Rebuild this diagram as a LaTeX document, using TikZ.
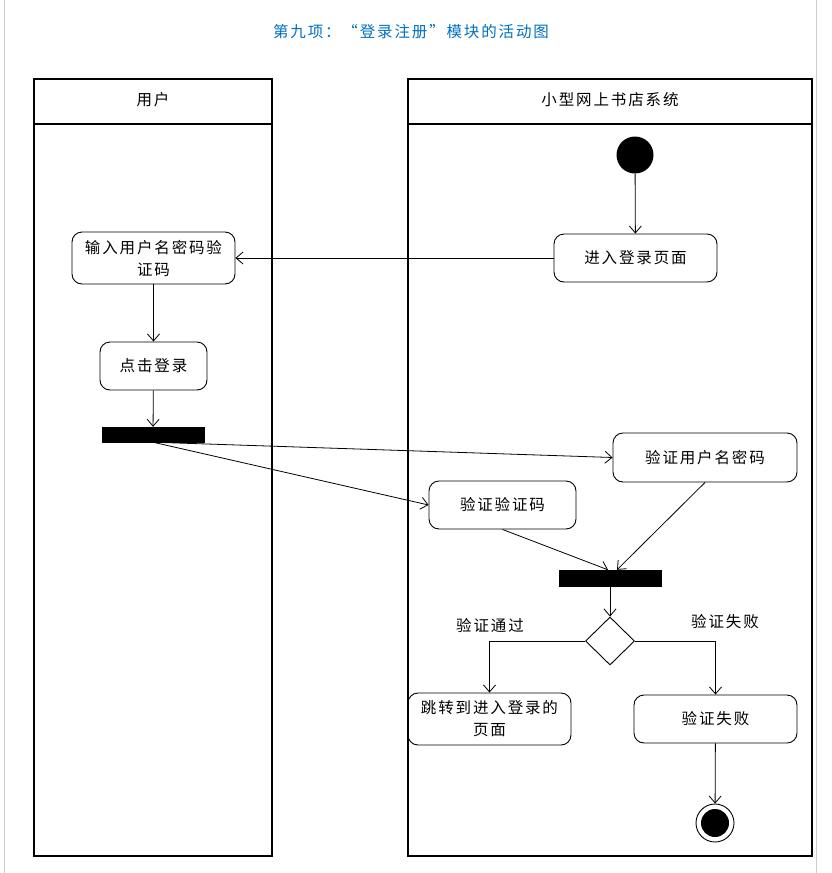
\documentclass[tikz,border=0pt]{standalone}
\usepackage{fontspec}
\newfontfamily\cjk[LetterSpace=12]{Noto Sans CJK SC}
\usetikzlibrary{arrows.meta,shapes.geometric,calc}
\definecolor{titleblue}{RGB}{0,112,192}
\begin{document}
\begin{tikzpicture}[x=1pt,y=-1pt,
  txt/.style={font=\cjk\fontsize{15.5}{22}\selectfont, align=center, inner sep=0pt},
  act/.style={txt, draw, rounded corners=10pt, line width=0.9pt},
  bar/.style={draw, fill=black, inner sep=0pt},
  lane/.style={draw, line width=1.1pt},
  arr/.style={line width=0.8pt, -{Straight Barb[length=7pt,width=12pt]}}]
\useasboundingbox (0,0) rectangle (831,873);
\fill[white] (0,0) rectangle (831,873);
\draw[gray!40, line width=0.8pt] (4,0) -- (4,873) (816,0) -- (816,873);

% title
\node[txt, text=titleblue] (title) at (411,32) {第九项：“登录注册”模块的活动图};

% swimlanes
\draw[lane] (34,79) rectangle (272,856);
\draw[lane] (34,124) -- (272,124);
\draw[lane] (408,79) rectangle (812,856);
\draw[lane] (408,124) -- (812,124);
\node[txt] (laneU) at (153,100) {用户};
\node[txt] (laneS) at (610,100) {小型网上书店系统};

% nodes
\node[circle, fill=black, minimum size=37pt, inner sep=0pt] (start) at (635,155) {};
\node[act, minimum width=163pt, minimum height=48pt] (enter) at (635.5,258) {进入登录页面};
\node[act, minimum width=163pt, minimum height=52pt] (input) at (153.5,258) {输入用户名密码验\\证码};
\node[act, minimum width=107pt, minimum height=48pt] (click) at (153.5,366) {点击登录};
\node[bar, minimum width=102pt, minimum height=15pt] (fork) at (153,434.5) {};
\node[act, minimum width=184pt, minimum height=49pt] (vup) at (705,457.5) {验证用户名密码};
\node[act, minimum width=147pt, minimum height=48pt] (vcode) at (502.5,505) {验证验证码};
\node[bar, minimum width=102pt, minimum height=16pt] (join) at (610,578) {};
\node[diamond, draw, line width=0.9pt, minimum width=49pt, minimum height=48pt, inner sep=0pt, aspect=1] (dec) at (610,641) {};
\node[act, minimum width=163pt, minimum height=52pt] (jump) at (489.5,719) {跳转到进入登录的\\页面};
\node[act, minimum width=163pt, minimum height=48pt] (fail) at (715.5,719) {验证失败};
\node[circle, draw, line width=0.9pt, minimum size=38pt, inner sep=0pt] (end) at (715,823) {};
\node[circle, fill=black, minimum size=28pt, inner sep=0pt] (endin) at (end.center) {};

% guard labels
\node[txt] (lpass) at (490,625) {验证通过};
\node[txt] (lfail) at (725,622) {验证失败};

% connectors
\coordinate (j1) at ($(join.north)+(-2,0)$);
\coordinate (j2) at ($(join.north)+(7,0)$);
\draw[arr] (start) -- (enter);
\draw[arr] (enter) -- (input);
\draw[arr] (input) -- (click);
\draw[arr] (click) -- (fork);
\draw[arr] (fork.south) -- (vup.west);
\draw[arr] (fork.south) -- (vcode.west);
\draw[arr] (vcode.south) -- (j1);
\draw[arr] (vup.south) -- (j2);
\draw[arr] (join) -- (dec);
\draw[arr] (dec.west) -| (jump.north);
\draw[arr] (dec.east) -| (fail.north);
\draw[arr] (fail) -- (end);
\end{tikzpicture}
\end{document}
